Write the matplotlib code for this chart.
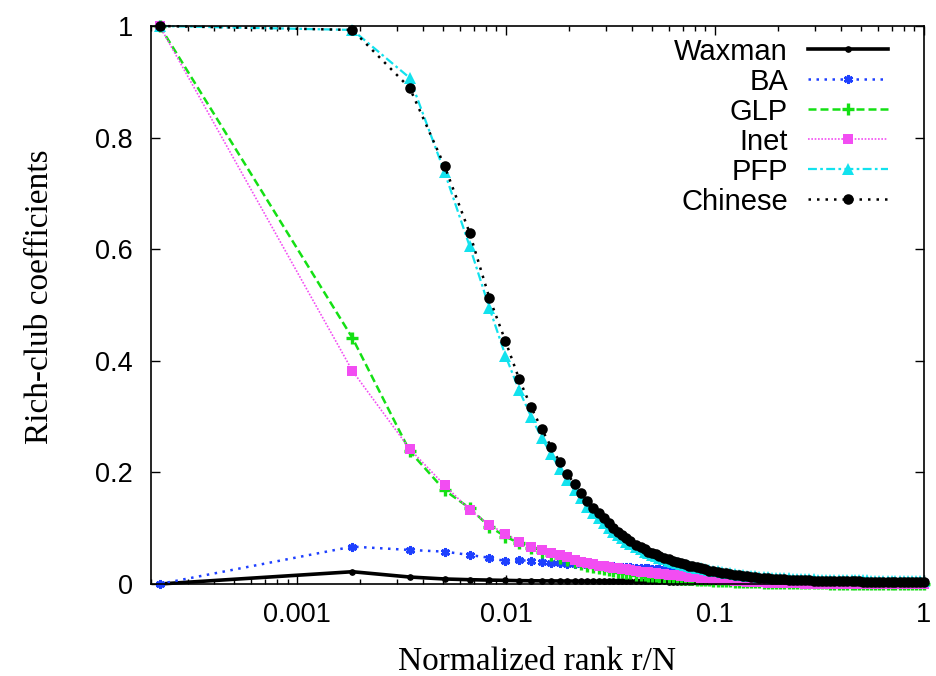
import matplotlib

matplotlib.use("Agg")
import matplotlib.pyplot as plt
from matplotlib.lines import Line2D
from matplotlib.ticker import FixedLocator, FixedFormatter, NullFormatter

rank = [
    0.00022, 0.00184, 0.00346, 0.00508, 0.0067, 0.00832, 0.00994, 0.01156,
    0.01318, 0.0148, 0.01642, 0.01804, 0.01966, 0.02128, 0.0229, 0.02452,
    0.02614, 0.02776, 0.02938, 0.031, 0.03262, 0.03424, 0.03586, 0.03748,
    0.0391,
    0.042, 0.044, 0.046, 0.048, 0.050, 0.052, 0.054, 0.057, 0.060, 0.063,
    0.066, 0.069, 0.072, 0.075, 0.078, 0.082, 0.086, 0.090, 0.094, 0.098,
    0.103, 0.108, 0.113, 0.118, 0.124, 0.130, 0.136, 0.142, 0.149, 0.156,
    0.163, 0.171, 0.179, 0.187, 0.196, 0.205, 0.215, 0.225, 0.235, 0.246,
    0.258, 0.270, 0.283, 0.296, 0.31, 0.325, 0.34, 0.355, 0.37, 0.39,
    0.41, 0.43, 0.45, 0.47, 0.49, 0.51, 0.535, 0.56, 0.585, 0.61,
    0.64, 0.67, 0.70, 0.73, 0.765, 0.80, 0.835, 0.875, 0.915, 0.955, 1.0,
]

waxman = [
    0.0, 0.022, 0.0125, 0.009, 0.0077, 0.007, 0.0065, 0.006, 0.0058, 0.0056,
    0.0055, 0.0054, 0.0053, 0.0052, 0.0052, 0.0051, 0.0051, 0.005, 0.005, 0.005,
    0.0049, 0.0049, 0.0048, 0.0048, 0.0047,
    0.0047, 0.0047, 0.0046, 0.0046, 0.0046, 0.0045, 0.0045, 0.0045, 0.0044, 0.0044,
    0.0043, 0.0043, 0.0043, 0.0042, 0.0042, 0.0042, 0.0041, 0.0041, 0.004, 0.004,
    0.004, 0.0039, 0.0039, 0.0038, 0.0038, 0.0037, 0.0037, 0.0036, 0.0036, 0.0035,
    0.0035, 0.0034, 0.0034, 0.0033, 0.0033, 0.0032, 0.0032, 0.0031, 0.0031, 0.003,
    0.003, 0.0029, 0.0029, 0.0028, 0.0028, 0.0027, 0.0027, 0.0026, 0.0026, 0.0025,
    0.0025, 0.0025, 0.0024, 0.0024, 0.0024, 0.0023, 0.0023, 0.0023, 0.0022, 0.0022,
    0.0022, 0.0022, 0.0021, 0.0021, 0.0021, 0.0021, 0.002, 0.002, 0.002, 0.002, 0.002,
]
ba = [
    0.0, 0.067, 0.061, 0.058, 0.052, 0.047, 0.041, 0.043, 0.041, 0.040,
    0.037, 0.037, 0.036, 0.036, 0.035, 0.034, 0.034, 0.033, 0.033, 0.032,
    0.032, 0.031, 0.031, 0.030, 0.030,
    0.029, 0.029, 0.028, 0.028, 0.027, 0.027, 0.026, 0.026, 0.025, 0.025,
    0.024, 0.024, 0.023, 0.023, 0.022, 0.021, 0.020, 0.019, 0.018, 0.017,
    0.016, 0.0152, 0.0145, 0.0138, 0.013, 0.0124, 0.0118, 0.0112, 0.0106, 0.0101,
    0.0096, 0.0092, 0.0088, 0.0084, 0.008, 0.0077, 0.0074, 0.0071, 0.0068, 0.0066,
    0.0064, 0.0062, 0.006, 0.0058, 0.0056, 0.0055, 0.0054, 0.0052, 0.0051, 0.005,
    0.0049, 0.0048, 0.0047, 0.0046, 0.0045, 0.0044, 0.0043, 0.0042, 0.0041, 0.004,
    0.0039, 0.0038, 0.0037, 0.0036, 0.0035, 0.0034, 0.0034, 0.0033, 0.0033, 0.0032, 0.0032,
]
glp = [
    1.0, 0.441, 0.238, 0.168, 0.136, 0.103, 0.085, 0.073, 0.064, 0.057,
    0.052, 0.047, 0.043, 0.039, 0.036, 0.033, 0.031, 0.029, 0.027, 0.025,
    0.024, 0.022, 0.021, 0.020, 0.019,
    0.017, 0.0163, 0.0156, 0.015, 0.0143, 0.0137, 0.013, 0.0123, 0.0116, 0.011,
    0.0104, 0.0098, 0.0093, 0.0088, 0.0083, 0.0077, 0.0072, 0.0067, 0.0063, 0.0059,
    0.0055, 0.0051, 0.0048, 0.0045, 0.0042, 0.0039, 0.0036, 0.0034, 0.0031, 0.0029,
    0.0027, 0.0025, 0.0023, 0.0022, 0.002, 0.0019, 0.0017, 0.0016, 0.0015, 0.0014,
    0.0013, 0.0012, 0.0011, 0.001, 0.001, 0.0009, 0.0009, 0.0008, 0.0008, 0.0007,
    0.0007, 0.0006, 0.0006, 0.0006, 0.0005, 0.0005, 0.0005, 0.0005, 0.0004, 0.0004,
    0.0004, 0.0004, 0.0004, 0.0003, 0.0003, 0.0003, 0.0003, 0.0003, 0.0003, 0.0003, 0.0003,
]
inet = [
    1.0, 0.382, 0.242, 0.177, 0.133, 0.106, 0.090, 0.076, 0.067, 0.061,
    0.056, 0.052, 0.048, 0.043, 0.040, 0.037, 0.035, 0.033, 0.032, 0.030,
    0.029, 0.028, 0.027, 0.026, 0.025,
    0.023, 0.0223, 0.0215, 0.0207, 0.02, 0.0193, 0.0187, 0.0178, 0.017, 0.0162,
    0.0155, 0.0148, 0.0141, 0.0134, 0.0128, 0.012, 0.0113, 0.0106, 0.0099, 0.0093,
    0.0085, 0.0078, 0.0071, 0.0065, 0.0059, 0.0053, 0.0048, 0.0043, 0.0038, 0.0034,
    0.003, 0.0027, 0.0024, 0.0021, 0.0018, 0.0016, 0.0014, 0.0012, 0.0011, 0.001,
    0.0009, 0.0008, 0.0007, 0.0006, 0.0006, 0.0005, 0.0005, 0.0004, 0.0004, 0.0004,
    0.0003, 0.0003, 0.0003, 0.0003, 0.0002, 0.0002, 0.0002, 0.0002, 0.0002, 0.0002,
    0.0002, 0.0002, 0.0002, 0.0001, 0.0001, 0.0001, 0.0001, 0.0001, 0.0001, 0.0001, 0.0001,
]
pfp = [
    1.0, 0.993, 0.907, 0.738, 0.605, 0.495, 0.409, 0.347, 0.300, 0.262,
    0.233, 0.206, 0.186, 0.168, 0.154, 0.138, 0.128, 0.118, 0.109, 0.101,
    0.093, 0.087, 0.082, 0.076, 0.072,
    0.066, 0.062, 0.058, 0.055, 0.052, 0.050, 0.047, 0.044, 0.042, 0.039,
    0.037, 0.035, 0.034, 0.032, 0.031, 0.029, 0.028, 0.026, 0.025, 0.024,
    0.023, 0.022, 0.020, 0.019, 0.018, 0.017, 0.016, 0.015, 0.0145, 0.014,
    0.0133, 0.0127, 0.0121, 0.0116, 0.0111, 0.0107, 0.0103, 0.010, 0.0097, 0.0094,
    0.0091, 0.0088, 0.0085, 0.0082, 0.008, 0.0078, 0.0076, 0.0075, 0.0073, 0.0071,
    0.007, 0.0068, 0.0067, 0.0066, 0.0065, 0.0064, 0.0063, 0.0062, 0.0061, 0.006,
    0.0059, 0.0058, 0.0057, 0.0056, 0.0055, 0.0054, 0.0053, 0.0052, 0.0051, 0.005, 0.005,
]
chinese = [
    1.0, 0.993, 0.889, 0.749, 0.629, 0.513, 0.435, 0.367, 0.317, 0.278,
    0.246, 0.219, 0.197, 0.179, 0.163, 0.149, 0.136, 0.127, 0.118, 0.109,
    0.100, 0.094, 0.088, 0.082, 0.077,
    0.070, 0.066, 0.062, 0.058, 0.055, 0.053, 0.050, 0.047, 0.044, 0.042,
    0.039, 0.037, 0.035, 0.033, 0.032, 0.030, 0.028, 0.026, 0.024, 0.023,
    0.022, 0.020, 0.019, 0.018, 0.017, 0.0155, 0.0145, 0.0135, 0.0128, 0.012,
    0.0114, 0.0108, 0.0102, 0.0097, 0.0092, 0.0088, 0.0084, 0.008, 0.0077, 0.0074,
    0.0071, 0.0068, 0.0065, 0.0062, 0.006, 0.0058, 0.0056, 0.0055, 0.0053, 0.0051,
    0.005, 0.0048, 0.0047, 0.0046, 0.0045, 0.0044, 0.0043, 0.0042, 0.0041, 0.0039,
    0.0038, 0.0036, 0.0035, 0.0034, 0.0033, 0.0032, 0.0031, 0.003, 0.003, 0.0029, 0.0028,
]

x_ticks = [0.001, 0.01, 0.1, 1]
x_tick_labels = ["0.001", "0.01", "0.1", "1"]
y_ticks = [0, 0.2, 0.4, 0.6, 0.8, 1]
y_tick_labels = ["0", "0.2", "0.4", "0.6", "0.8", "1"]

# label, values, style
series = [
    ("Waxman", waxman, dict(color="black", lw=2.6, ls="-", marker="o", ms=3.8)),
    ("BA", ba, dict(color="#1e40ff", lw=1.8, ls=(0, (1.0, 2.2)), marker=(6, 2, 0),
                    ms=6.5, mew=2.1)),
    ("GLP", glp, dict(color="#14e014", lw=1.8, ls=(0, (3.2, 1.6)), marker="+",
                      ms=9, mew=2.4)),
    ("Inet", inet, dict(color="#f24df2", lw=1.2, ls=(0, (1.0, 1.0)), marker="s",
                        ms=6.8, mew=0)),
    ("PFP", pfp, dict(color="#12e2ee", lw=1.6, ls=(0, (4.0, 1.5, 1.2, 1.5)),
                      marker="^", ms=8.5, mew=0)),
    ("Chinese", chinese, dict(color="black", lw=1.8, ls=(0, (1.0, 2.4)), marker="o",
                              ms=7.6, mew=0)),
]
for _, vals, _ in series:
    assert len(vals) == len(rank)

W, H = 936, 676
fig = plt.figure(figsize=(W / 100, H / 100), dpi=100)
ax = fig.add_axes([151 / W, 1 - 584 / H, (924 - 151) / W, (584 - 26) / H])

for label, vals, st in series:
    ax.plot(rank, vals, clip_on=False, **st)

ax.set_xscale("log")
ax.set_xlim(0.0002, 1)
ax.set_ylim(0, 1)

ax.xaxis.set_major_locator(FixedLocator(x_ticks))
ax.xaxis.set_major_formatter(FixedFormatter(x_tick_labels))
ax.xaxis.set_minor_formatter(NullFormatter())
ax.yaxis.set_major_locator(FixedLocator(y_ticks))
ax.yaxis.set_major_formatter(FixedFormatter(y_tick_labels))

ax.tick_params(which="both", direction="in", top=True, right=True, width=1.0,
               colors="black")
ax.tick_params(which="major", length=6.5, pad=13)
ax.tick_params(which="minor", length=3.5)
for lab in ax.get_xticklabels() + ax.get_yticklabels():
    lab.set_family("Liberation Sans")
    lab.set_fontsize(19.5)
for sp in ax.spines.values():
    sp.set_linewidth(1.2)

fig.text(40 / W, 1 - 297 / H, "Rich-club coefficients", rotation=90,
         ha="center", va="center", family="Liberation Serif", fontsize=24)
fig.text(537 / W, 1 - 670 / H, "Normalized rank r/N", ha="center",
         va="baseline", family="Liberation Serif", fontsize=24)

# key, drawn by hand: right-aligned names with the sample to their right
for i, (label, vals, st) in enumerate(series):
    yc = 49 + 30 * i
    fig.text(788 / W, 1 - (yc + 10.5) / H, label, ha="right", va="baseline",
             family="Liberation Sans", fontsize=21)
    fig.add_artist(Line2D([808 / W, 848 / W, 888 / W], [1 - yc / H] * 3,
                          transform=fig.transFigure, markevery=[1], **st))

fig.savefig("out.png", dpi=100)
